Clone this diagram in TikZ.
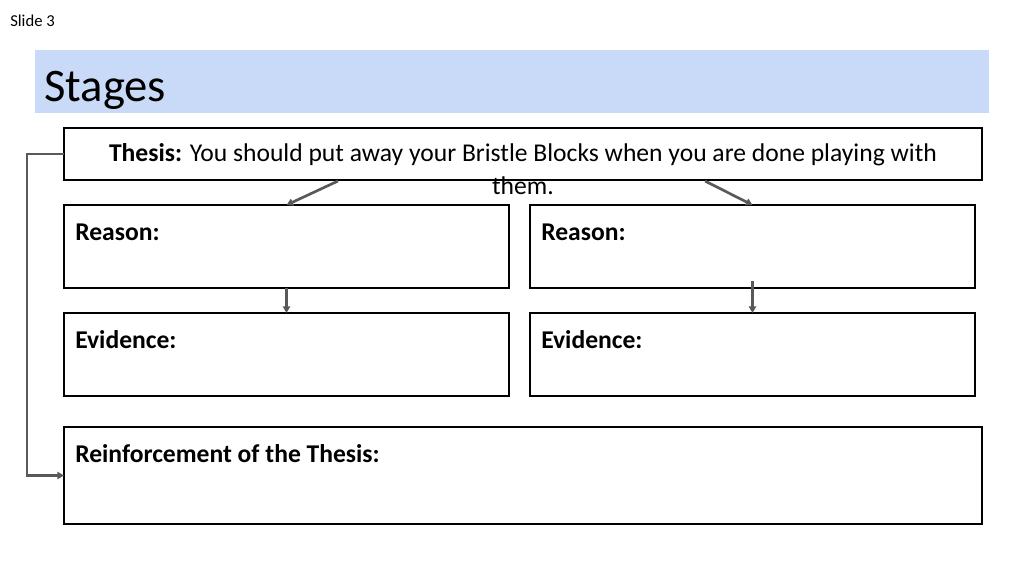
\documentclass[tikz,border=0pt]{standalone}
\usepackage{fontspec}
\setmainfont{Carlito}
\usepackage{xcolor}
\usepackage{tikz}
\usetikzlibrary{arrows.meta, positioning, calc}
\definecolor{barblue}{HTML}{C9DAF8}
\definecolor{arcgray}{HTML}{595959}
\tikzset{
  box/.style={rectangle, draw=black, line width=1.5pt, inner sep=0pt, outer sep=0pt,
              anchor=north west},
  half/.style={box, minimum width=333.75pt, minimum height=62.25pt},
  wide/.style={box, minimum width=688.5pt},
  lbl/.style={inner sep=0pt, anchor=base west, font=\fontsize{19.2pt}{22.5pt}\selectfont\bfseries},
  arc/.style={-{Triangle[length=5pt, width=5.5pt]}, line width=2pt, draw=arcgray}
}
\begin{document}
\begin{tikzpicture}[x=0.75pt, y=-0.75pt]
        \useasboundingbox (0,0) rectangle (1024,576);
        \node[inner sep=0pt, anchor=base west, font=\fontsize{12.5pt}{15pt}\selectfont] (slide) at (10,26) {Slide 3};
        \node[rectangle, fill=barblue, inner sep=0pt, anchor=north west,
              minimum width=715.5pt, minimum height=47.25pt] (bar) at (35,50) {};
        \node[inner sep=0pt, anchor=base west, font=\fontsize{35pt}{40pt}\selectfont] (title) at (44,101) {Stages};
        \node[wide, minimum height=39pt] (thesis) at (64,128) {};
        \node[inner sep=0pt, anchor=base, align=center, font=\fontsize{19.2pt}{24.5pt}\selectfont] (thesisT) at (523,194.5)
          {\textbf{Thesis:} You should put away your Bristle Blocks when you are done playing with\\them.};
        \node[half] (rsnL) at (64,205) {};
        \node[half] (rsnR) at (530,205) {};
        \node[half] (evdL) at (64,313) {};
        \node[half] (evdR) at (530,313) {};
        \node[wide, minimum height=72.75pt] (reinf) at (64,427) {};
        \node[lbl] (rsnLt) at ([shift={(11,35)}]rsnL.north west) {Reason:};
        \node[lbl] (rsnRt) at ([shift={(11,35)}]rsnR.north west) {Reason:};
        \node[lbl] (evdLt) at ([shift={(11,35)}]evdL.north west) {Evidence:};
        \node[lbl] (evdRt) at ([shift={(11,35)}]evdR.north west) {Evidence:};
        \node[lbl] (reinfT) at ([shift={(11,35)}]reinf.north west) {Reinforcement of the Thesis:};
        \coordinate (thL) at ([shift={(274,1)}]thesis.south west);
        \coordinate (thR) at ([shift={(641,1)}]thesis.south west);
        \draw[arc] (thL) -- (rsnL.north);
        \draw[arc] (thR) -- (rsnR.north);
        \draw[arc] (rsnL.south) -- (evdL.north);
        \draw[arc] ([shift={(0,-7)}]rsnR.south) -- (evdR.north);
        \draw[arc] (thesis.west) -- ++(-37,0) |- (reinf.west);
      \end{tikzpicture}
\end{document}
